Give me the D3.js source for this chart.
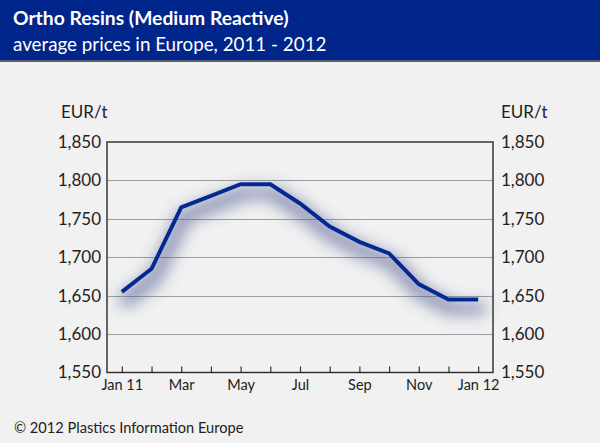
<!DOCTYPE html>
<html>
<head>
<meta charset="utf-8">
<script src="https://cdn.jsdelivr.net/npm/d3@7"></script>
<style>
  body { margin: 0; background: #f0f1f0; }
  svg { display: block; font-family: Lato, "Open Sans", sans-serif; }
</style>
</head>
<body>
<div id="chart"></div>
<script>
// monthly values, Jan 11 .. Jan 12
var months = ["Jan 11", "Feb", "Mar", "Apr", "May", "Jun", "Jul", "Aug", "Sep", "Oct", "Nov", "Dec", "Jan 12"];
var prices = [1655, 1685, 1765, 1780, 1795, 1795, 1770, 1740, 1720, 1705, 1665, 1645, 1645];
var yTicks = [1550, 1600, 1650, 1700, 1750, 1800, 1850];
var xLabels = ["Jan 11", "Mar", "May", "Jul", "Sep", "Nov", "Jan 12"];

var svgWidth = 600;
var svgHeight = 443;

var chartMargin = {
  top: 142,
  right: 107,
  bottom: 70,
  left: 107
};

var chartWidth = svgWidth - chartMargin.left - chartMargin.right;
var chartHeight = svgHeight - chartMargin.top - chartMargin.bottom - 0.5;

var svg = d3.select("#chart")
  .append("svg")
  .attr("width", svgWidth)
  .attr("height", svgHeight);

svg.append("rect")
  .attr("width", svgWidth)
  .attr("height", svgHeight)
  .attr("fill", "#f0f1f0");

// header band
svg.append("rect")
  .attr("width", svgWidth)
  .attr("height", 61)
  .attr("fill", "#00258b");
svg.append("rect")
  .attr("y", 60)
  .attr("width", svgWidth)
  .attr("height", 2)
  .attr("fill", "#5a6070");

svg.append("text")
  .attr("x", 13)
  .attr("y", 25)
  .attr("fill", "#fff")
  .attr("font-size", 19.3)
  .attr("font-weight", "bold")
  .text("Ortho Resins (Medium Reactive)");

svg.append("text")
  .attr("x", 13)
  .attr("y", 51)
  .attr("fill", "#fff")
  .attr("font-size", 18.8)
  .text("average prices in Europe, 2011 - 2012");

// soft bluish shadow under the line
var defs = svg.append("defs");
var filter = defs.append("filter")
  .attr("id", "shadow")
  .attr("filterUnits", "userSpaceOnUse")
  .attr("x", -40).attr("y", -40)
  .attr("width", chartWidth + 80).attr("height", chartHeight + 80);
filter.append("feMorphology")
  .attr("in", "SourceAlpha")
  .attr("operator", "dilate")
  .attr("radius", 4)
  .attr("result", "thick");
filter.append("feGaussianBlur")
  .attr("in", "thick")
  .attr("stdDeviation", 7.5)
  .attr("result", "blur");
filter.append("feOffset")
  .attr("in", "blur")
  .attr("dx", 3)
  .attr("dy", 9)
  .attr("result", "off");
filter.append("feFlood")
  .attr("flood-color", "#4a5490")
  .attr("flood-opacity", 0.6);
filter.append("feComposite")
  .attr("in2", "off")
  .attr("operator", "in")
  .attr("result", "sh");
var merge = filter.append("feMerge");
merge.append("feMergeNode").attr("in", "sh");
merge.append("feMergeNode").attr("in", "SourceGraphic");

var chartGroup = svg.append("g")
  .attr("transform", `translate(${chartMargin.left}, ${chartMargin.top})`);

var xScale = d3.scalePoint()
  .domain(months)
  .range([0, chartWidth])
  .padding(0.5);

var yScale = d3.scaleLinear()
  .domain([1550, 1850])
  .range([chartHeight, 0]);

// gridlines
chartGroup.selectAll(".grid")
  .data(yTicks.slice(1, -1))
  .enter()
  .append("line")
  .attr("x1", 0)
  .attr("x2", chartWidth)
  .attr("y1", d => Math.round(yScale(d)) + 0.5)
  .attr("y2", d => Math.round(yScale(d)) + 0.5)
  .attr("stroke", "#9c9ea0")
  .attr("stroke-width", 1.2);

// price line (under the frame)
var line = d3.line()
  .x((d, i) => xScale(months[i]))
  .y(d => yScale(d));

chartGroup.append("path")
  .datum(prices)
  .attr("d", line)
  .attr("fill", "none")
  .attr("stroke", "#062a91")
  .attr("stroke-width", 4)
  .attr("stroke-linejoin", "miter")
  .attr("filter", "url(#shadow)");

// bottom axis with inward ticks
var bottomAxis = d3.axisBottom(xScale)
  .tickSizeInner(-6)
  .tickSizeOuter(0)
  .tickFormat(d => xLabels.indexOf(d) >= 0 ? d : "");

var xAxis = chartGroup.append("g")
  .attr("transform", `translate(0, ${chartHeight})`)
  .call(bottomAxis);
xAxis.select(".domain").remove();
xAxis.selectAll("line").attr("stroke", "#333").attr("stroke-width", 1.2);
xAxis.selectAll("text")
  .attr("y", 7)
  .attr("font-size", 14.5)
  .attr("font-family", "Lato, sans-serif")
  .attr("fill", "#222");

// left / right axes labels
var leftAxis = d3.axisLeft(yScale).tickValues(yTicks).tickSize(0).tickPadding(6).tickFormat(d3.format(","));
var rightAxis = d3.axisRight(yScale).tickValues(yTicks).tickSize(0).tickPadding(8).tickFormat(d3.format(","));

[chartGroup.append("g").call(leftAxis),
 chartGroup.append("g").attr("transform", `translate(${chartWidth}, 0)`).call(rightAxis)]
  .forEach(function(g) {
    g.select(".domain").remove();
    g.selectAll("text")
      .attr("font-size", 17)
      .attr("font-family", "Lato, sans-serif")
      .attr("fill", "#222");
  });

// frame
chartGroup.append("rect")
  .attr("x", 0)
  .attr("y", 0)
  .attr("width", chartWidth)
  .attr("height", chartHeight)
  .attr("fill", "none")
  .attr("stroke", "#2a2a2a")
  .attr("stroke-width", 1.4);

// unit labels
chartGroup.append("text")
  .attr("x", -46)
  .attr("y", -24)
  .attr("font-size", 17)
  .attr("fill", "#222")
  .text("EUR/t");
chartGroup.append("text")
  .attr("x", chartWidth + 8)
  .attr("y", -24)
  .attr("font-size", 17)
  .attr("fill", "#222")
  .text("EUR/t");

// footer
svg.append("text")
  .attr("x", 14)
  .attr("y", 433)
  .attr("font-size", 14.6)
  .attr("fill", "#222")
  .text("\u00a9 2012 Plastics Information Europe");
</script>
</body>
</html>
